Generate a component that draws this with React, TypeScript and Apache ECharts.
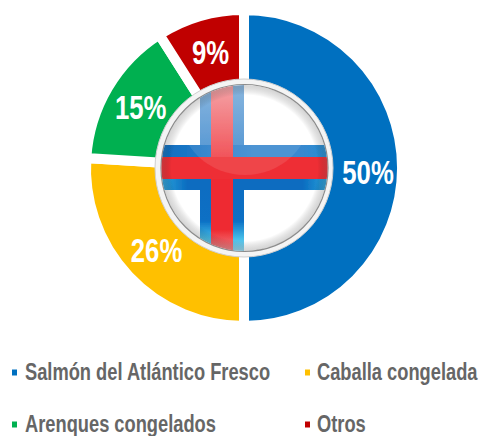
import React, { useEffect, useRef } from "react";
import * as echarts from "echarts";

const categories = ["Salmón del Atlántico Fresco", "Caballa congelada", "Arenques congelados", "Otros"];
const shares = [50, 26, 15, 9];
const colors = ["#0070C0", "#FFC000", "#00B050", "#C00000"];

const CX = 244;
const CY = 168;
const FONT = "'Liberation Sans', Arial, sans-serif";

const flagSvg = `<svg xmlns="http://www.w3.org/2000/svg" width="188" height="188" viewBox="150 74 188 188">
<defs>
<clipPath id="c"><circle cx="244.5" cy="168" r="83"/></clipPath>
<filter id="s" x="-5%" y="-5%" width="110%" height="110%"><feGaussianBlur stdDeviation="0.5"/></filter>
<linearGradient id="bv" x1="0" y1="0" x2="0" y2="1">
<stop offset="0" stop-color="#7FB0DC"/><stop offset=".38" stop-color="#4A90D0"/><stop offset=".5" stop-color="#0A6CC0"/><stop offset=".8" stop-color="#0A6FC4"/><stop offset=".9" stop-color="#45BDE8"/><stop offset="1" stop-color="#B8E8F7"/>
</linearGradient>
<linearGradient id="rv" x1="0" y1="0" x2="0" y2="1">
<stop offset="0" stop-color="#F4A0A4"/><stop offset=".42" stop-color="#F0464C"/><stop offset=".52" stop-color="#EE2A30"/><stop offset=".85" stop-color="#EE2A30"/><stop offset="1" stop-color="#F59CA0"/>
</linearGradient>
<linearGradient id="bh" x1="0" y1="0" x2="1" y2="0">
<stop offset="0" stop-color="#0A6CC0"/><stop offset=".55" stop-color="#3A88CF"/><stop offset=".8" stop-color="#3A88CF"/><stop offset="1" stop-color="#1F8FD4"/>
</linearGradient>
<linearGradient id="bl" x1="0" y1="0" x2="1" y2="0">
<stop offset="0" stop-color="#35B4E4"/><stop offset=".18" stop-color="#0A6CC0"/><stop offset=".82" stop-color="#0A6CC0"/><stop offset="1" stop-color="#35B4E4"/>
</linearGradient>
<radialGradient id="edge" cx="244.5" cy="168" r="83" gradientUnits="userSpaceOnUse">
<stop offset=".88" stop-color="#000" stop-opacity="0"/><stop offset="1" stop-color="#555" stop-opacity=".25"/>
</radialGradient>
</defs>
<circle cx="244" cy="168" r="89" fill="#F4F4F4" stroke="#CFCFCF" stroke-width="1"/>
<circle cx="244.5" cy="168" r="83.5" fill="#FFF" stroke="#8C8C8C" stroke-width="1.2"/>
<g clip-path="url(#c)"><g filter="url(#s)">
<rect x="200" y="80" width="44" height="176" fill="url(#bv)"/>
<rect x="155" y="145" width="180" height="12" fill="url(#bh)"/>
<rect x="155" y="179" width="180" height="11" fill="url(#bl)"/>
<rect x="211" y="80" width="22" height="176" fill="url(#rv)"/>
<rect x="155" y="157" width="180" height="22" fill="#EE2F36"/>
<ellipse cx="245" cy="112" rx="66" ry="63" fill="#FFF" opacity=".1"/>
</g>
<circle cx="244.5" cy="168" r="83" fill="url(#edge)"/>
</g>
</svg>`;
const flagUrl = "data:image/svg+xml;charset=utf-8," + encodeURIComponent(flagSvg);

export default function App() {
  const ref = useRef<HTMLDivElement>(null);
  useEffect(() => {
    document.body.style.margin = "0";
    const chart = echarts.init(ref.current!, null, { renderer: "svg" });

    const total = shares.reduce((a, b) => a + b, 0);
    let run = 0;
    const percentLabels = shares.map((v, i) => {
      const a = ((run + v / 2) / total) * 2 * Math.PI;
      run += v;
      const r = i === 0 ? 124 : 120;
      return {
        type: "text",
        z: 50,
        x: CX + r * Math.sin(a),
        y: CY - r * Math.cos(a) + (i === 0 ? 4 : 0),
        scaleX: 0.78,
        style: {
          text: `${v}%`,
          x: 0,
          y: 0,
          align: "center",
          verticalAlign: "middle",
          fill: "#FFFFFF",
          font: `bold 33px ${FONT}`,
        },
      };
    });

    const legendPos = [
      [12, 25, 372],
      [305, 317, 372],
      [12, 25, 424],
      [305, 317, 424],
    ];
    const legendItems = categories.flatMap((name, i) => {
      const [mx, tx, y] = legendPos[i];
      return [
        {
          type: "rect",
          z: 50,
          shape: { x: mx, y: y - 2.5, width: 5, height: 6 },
          style: { fill: colors[i] },
        },
        {
          type: "text",
          z: 50,
          x: tx,
          y,
          scaleX: 0.795,
          style: {
            text: name,
            x: 0,
            y: 0,
            align: "left",
            verticalAlign: "middle",
            fill: "#666666",
            font: `bold 23px ${FONT}`,
          },
        },
      ];
    });

    chart.setOption({
      animation: false,
      series: [
        {
          type: "pie",
          center: [CX, CY],
          radius: [78, 158],
          startAngle: 90,
          clockwise: true,
          silent: true,
          data: categories.map((name, i) => ({
            name,
            value: shares[i],
            itemStyle: { color: colors[i] },
          })),
          itemStyle: { borderColor: "#FFFFFF", borderWidth: 10 },
          label: { show: false },
          labelLine: { show: false },
        },
      ],
      graphic: [
        {
          type: "image",
          z: 40,
          x: 150,
          y: 74,
          style: { image: flagUrl, x: 0, y: 0, width: 188, height: 188 },
        },
        ...percentLabels,
        ...legendItems,
      ],
    });
    return () => chart.dispose();
  }, []);
  return <div ref={ref} style={{ width: 480, height: 436 }} />;
}
